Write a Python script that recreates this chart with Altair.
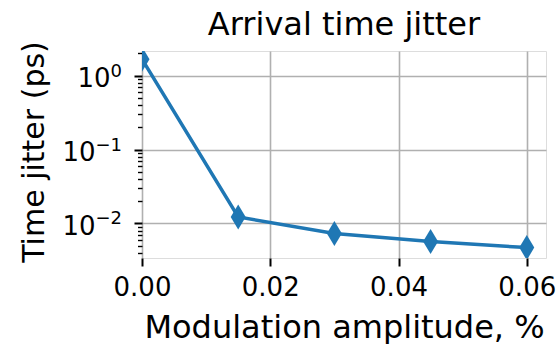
import altair as alt
import pandas as pd

# Data
amplitude = [0.0, 0.015, 0.03, 0.045, 0.06]
jitter = [1.67, 0.0122, 0.0073, 0.0057, 0.0047]

x_ticks = [0.0, 0.02, 0.04, 0.06]
y_major = [1, 0.1, 0.01]
y_exponents = ["0", "−1", "−2"]
y_minor = [0.004, 0.005, 0.006, 0.007, 0.008, 0.009,
           0.02, 0.03, 0.04, 0.05, 0.06, 0.07, 0.08, 0.09,
           0.2, 0.3, 0.4, 0.5, 0.6, 0.7, 0.8, 0.9, 2]

df = pd.DataFrame({"amp": amplitude, "jit": jitter})
exp_df = pd.DataFrame({"jit": y_major, "exp": y_exponents})

FONT = "DejaVu Sans"
BLUE = "#1f77b4"

major_test = "indexof([" + ",".join(str(v) for v in y_major) + "], datum.value) >= 0"
label_expr = major_test.replace(" >= 0", " >= 0 ? '10' : ''")

x_scale = alt.Scale(domain=[0, 0.063], nice=False, zero=False)
y_scale = alt.Scale(type="log", domain=[0.0034, 2.16], nice=False)

x_enc = alt.X(
    "amp:Q", scale=x_scale,
    axis=alt.Axis(
        values=x_ticks, format=".2f", title="Modulation amplitude, %",
        labelFont=FONT, labelFontSize=26, labelColor="black",
        labelBaseline="alphabetic", labelPadding=29, labelFlush=False,
        tickSize=8, tickWidth=2, tickColor="black", domain=False,
        grid=True, gridColor="#b0b0b0", gridWidth=1.6,
        titleFont=FONT, titleFontSize=32, titleFontWeight="normal",
        titleColor="black", titleBaseline="alphabetic", titleY=79,
    ),
)

y_enc = alt.Y(
    "jit:Q", scale=y_scale,
    axis=alt.Axis(
        values=sorted(y_major + y_minor), labelExpr=label_expr,
        title="Time jitter (ps)",
        labelFont=FONT, labelFontSize=26, labelColor="black",
        labelPadding={"condition": {"test": "datum.value == 1", "value": 24}, "value": 39},
        labelBaseline="alphabetic", labelOffset=11, labelFlush=False,
        tickColor="black",
        tickSize={"condition": {"test": major_test, "value": 8}, "value": 4.5},
        tickWidth={"condition": {"test": major_test, "value": 2}, "value": 1.4},
        domain=False, grid=True, gridColor="#b0b0b0", gridWidth=1.6,
        gridOpacity={"condition": {"test": major_test, "value": 1}, "value": 0},
        titleFont=FONT, titleFontSize=30, titleFontWeight="normal",
        titleColor="black", titleBaseline="alphabetic", titleAngle=-90,
        titleAlign="center", titleX=-99, titleY=100.5,
    ),
)

line = alt.Chart(df).mark_line(color=BLUE, strokeWidth=3.5, clip=True).encode(x=x_enc, y=y_enc)
points = alt.Chart(df).mark_point(
    shape="M0,-1L0.6,0L0,1L-0.6,0Z", filled=True, size=625, color=BLUE, opacity=1, clip=True
).encode(x=x_enc, y=y_enc)

exps = alt.Chart(exp_df).mark_text(
    font=FONT, fontSize=18, color="black", align="right", baseline="alphabetic", dy=1
).encode(x=alt.value(-20), y=alt.Y("jit:Q", scale=y_scale), text="exp:N")

chart = alt.layer(line, points, exps).properties(
    width=404, height=207,
    title=alt.TitleParams("Arrival time jitter", font=FONT, fontSize=32, fontWeight="normal",
                          color="black", offset=10, dy=11, anchor="middle"),
    autosize=alt.AutoSizeParams(type="none"),
    padding={"left": 142, "top": 51, "right": 12, "bottom": 86},
).configure_view(stroke="black", strokeWidth=2).configure(background="white")

chart.save("out.html", embed_options={"renderer": "svg", "actions": False})
